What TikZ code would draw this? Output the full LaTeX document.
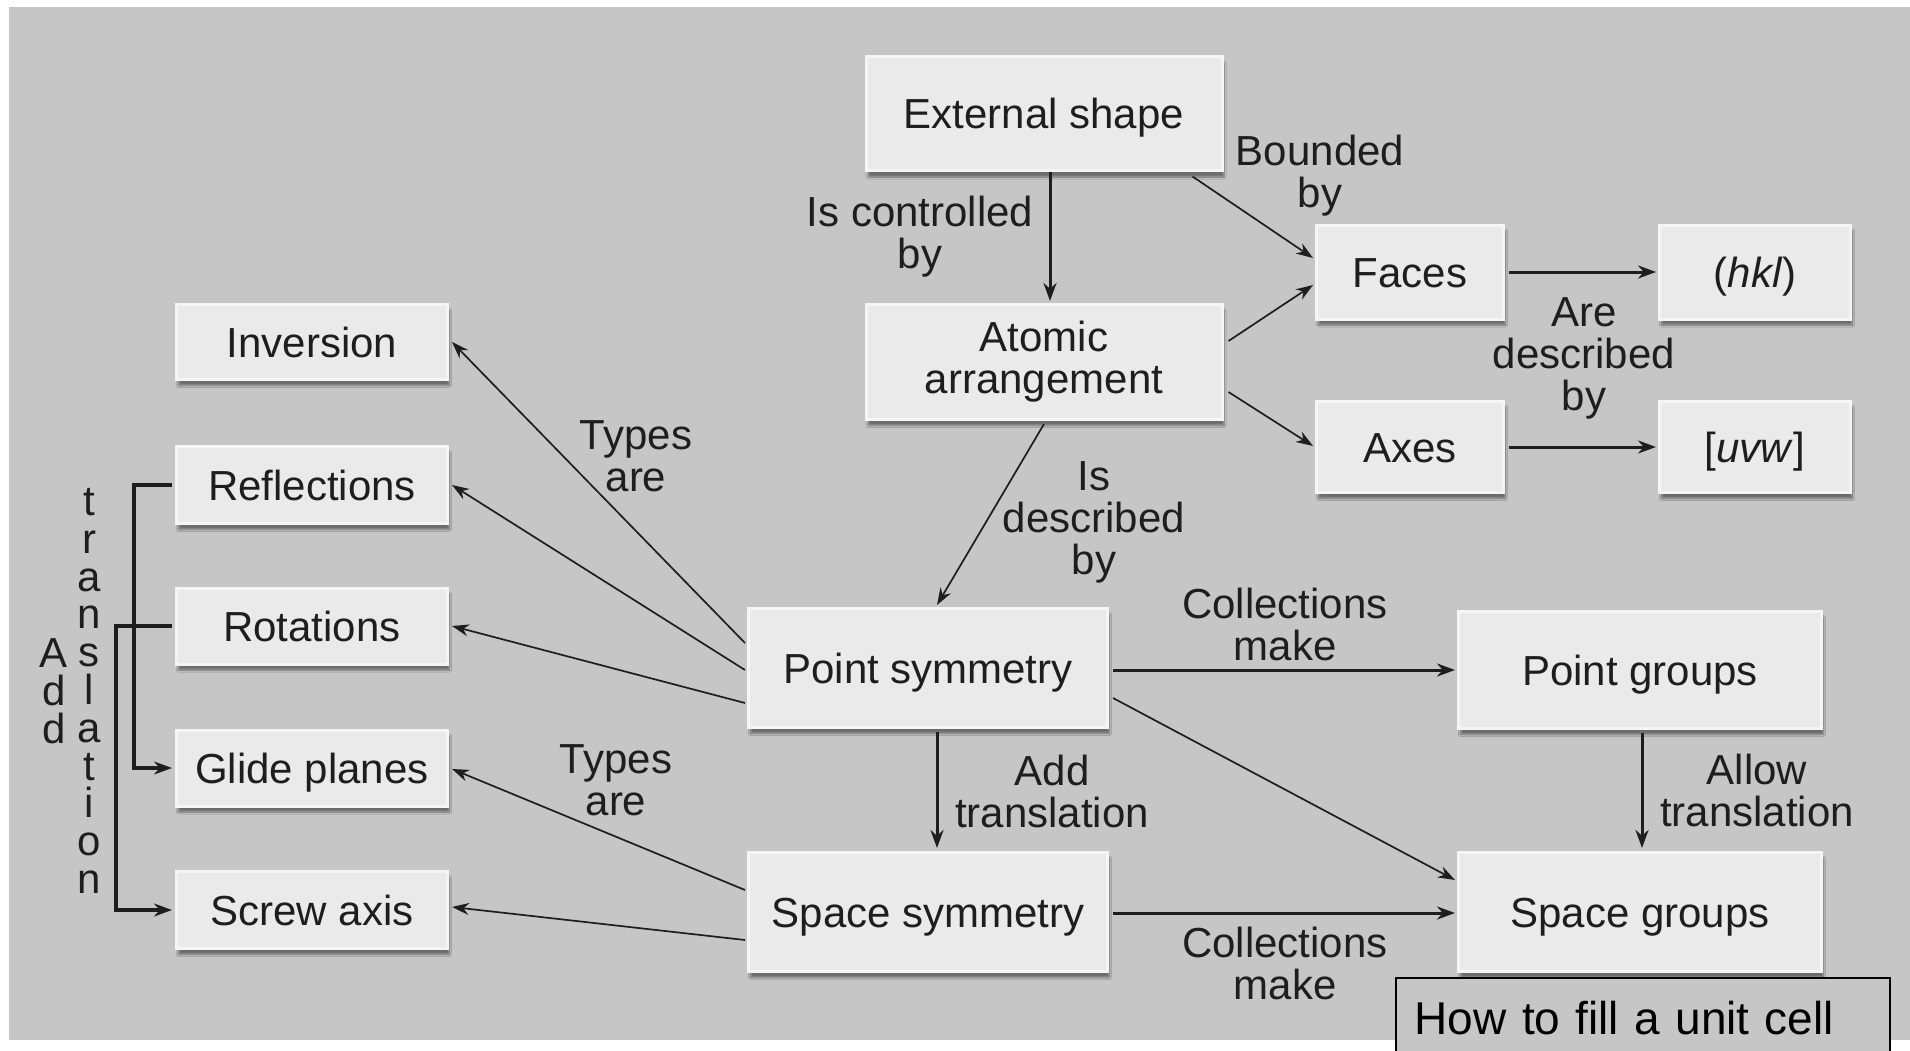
\documentclass[tikz,border=0pt]{standalone}
\usepackage{fontspec}
\setmainfont{Liberation Sans}
\usetikzlibrary{arrows.meta,shadows,shadows.blur,calc}
\definecolor{bg}{HTML}{C6C6C6}
\definecolor{boxfill}{HTML}{EAEAEA}
\definecolor{boxedge}{HTML}{F5F5F5}
\definecolor{ink}{HTML}{1E1E1E}
\tikzset{
  box/.style={draw=boxedge, line width=3pt, fill=boxfill, inner sep=0pt, align=center,
    blur shadow={shadow xshift=2pt, shadow yshift=-6pt, shadow blur steps=6, shadow opacity=45}},
  sline/.style={text height=30pt, text depth=0pt},
  lbl/.style={align=center, inner sep=0pt},
  thinarr/.style={draw=ink, line width=1.7pt, -{Stealth[length=17pt,width=12pt]}},
  thickarr/.style={draw=ink, line width=3pt, -{Stealth[length=18pt,width=13pt]}},
}
\begin{document}
\begin{tikzpicture}[x=1pt,y=-1pt,font=\fontsize{42}{42}\selectfont,text=ink]
\useasboundingbox (0,0) rectangle (1910,1051);
\clip (0,0) rectangle (1910,1051);
\fill[white] (0,0) rectangle (1910,1051);
\fill[bg] (9,7) rectangle (1910,1040);

% nodes
\node[box, sline, minimum width=356pt, minimum height=114pt] (ext) at (1044,114) {External shape};
\node[box, minimum width=356pt, minimum height=115pt] (atom) at (1044,362) {Atomic\\arrangement};
\node[box, sline, minimum width=187pt, minimum height=94pt] (faces) at (1410,272) {Faces};
\node[box, sline, minimum width=187pt, minimum height=91pt] (axes) at (1410,447) {Axes};
\node[box, sline, minimum width=191pt, minimum height=94pt] (hkl) at (1755,272) {(\textit{hkl})};
\node[box, sline, minimum width=191pt, minimum height=91pt] (uvw) at (1755,447) {[\textit{uvw}]};
\node[box, sline, minimum width=271pt, minimum height=75pt] (inv) at (312,342) {Inversion};
\node[box, sline, minimum width=271pt, minimum height=77pt] (refl) at (312,485) {Reflections};
\node[box, sline, minimum width=271pt, minimum height=76pt] (rot) at (312,626) {Rotations};
\node[box, sline, minimum width=271pt, minimum height=76pt] (glide) at (312,768) {Glide planes};
\node[box, sline, minimum width=271pt, minimum height=77pt] (screw) at (312,910) {Screw axis};
\node[box, sline, minimum width=359pt, minimum height=119pt] (psym) at (928,668) {Point symmetry};
\node[box, sline, minimum width=359pt, minimum height=119pt] (ssym) at (928,912) {Space symmetry};
\node[box, sline, minimum width=363pt, minimum height=117pt] (pgrp) at (1640,670) {Point groups};
\node[box, sline, minimum width=363pt, minimum height=119pt] (sgrp) at (1640,912) {Space groups};

% labels
\node[lbl] (l1) at (920,237) {Is controlled\\by};
\node[lbl] (l2) at (1320,176) {Bounded\\by};
\node[lbl] (l3) at (1584,358) {Are\\described\\by};
\node[lbl] (l4) at (636,456) {Types\\are};
\node[lbl] (l5) at (1094,522) {Is\\described\\by};
\node[lbl] (l6) at (1285,624) {Collections\\make};
\node[lbl] (l7) at (616,780) {Types\\are};
\node[lbl] (l8) at (1052,791) {Add\\translation};
\node[lbl] (l9) at (1757,790) {Allow\\translation};
\node[lbl] (l10) at (1285,963) {Collections\\make};
\node[lbl, font=\fontsize{42}{37.8}\selectfont] (vt) at (89,691) {t\\r\\a\\n\\s\\l\\a\\t\\i\\o\\n};
\node[lbl, font=\fontsize{42}{37.8}\selectfont] (va) at (54,691) {A\\d\\d};

% connectors
\draw[thickarr] ($(ext.south)+(6,0)$) -- ($(atom.north)+(6,-2)$);
\draw[thinarr] ($(ext.south east)+(-31,4)$) -- ($(faces.west)+(-2,-14)$);
\draw[thinarr] ($(atom.east)+(5,-21)$) -- ($(faces.west)+(-2,13)$);
\draw[thinarr] ($(atom.east)+(5,30)$) -- ($(axes.west)+(-2,-1)$);
\draw[thickarr] ($(faces.east)+(4,0)$) -- ($(hkl.west)+(-2,0)$);
\draw[thickarr] ($(axes.east)+(4,0)$) -- ($(uvw.west)+(-2,0)$);
\draw[thinarr] ($(atom.south)+(0,3)$) -- ($(psym.north)+(9,-2)$);
\draw[thinarr] ($(psym.west)+(-2,-25)$) -- ($(inv.east)+(3,0)$);
\draw[thinarr] ($(psym.west)+(-2,2)$) -- ($(refl.east)+(3,0)$);
\draw[thinarr] ($(psym.west)+(-2,35)$) -- ($(rot.east)+(3,0)$);
\draw[thickarr] ($(psym.east)+(4,2)$) -- ($(pgrp.west)+(-2,0)$);
\draw[thinarr] ($(psym.east)+(4,30)$) -- ($(sgrp.west)+(-2,-32)$);
\draw[thickarr] ($(psym.south)+(9,3)$) -- ($(ssym.north)+(9,-3)$);
\draw[thinarr] ($(ssym.west)+(-2,-22)$) -- ($(glide.east)+(3,1)$);
\draw[thinarr] ($(ssym.west)+(-2,28)$) -- ($(screw.east)+(3,-3)$);
\draw[thickarr] ($(ssym.east)+(4,1)$) -- ($(sgrp.west)+(-2,1)$);
\draw[thickarr] ($(pgrp.south)+(2,3)$) -- ($(sgrp.north)+(2,-3)$);
\draw[thickarr, line width=3.2pt] ($(refl.west)+(-3,0)$) -- ++(-38,0) |- ($(glide.west)+(-3,0)$);
\draw[thickarr, line width=3.2pt] ($(rot.west)+(-3,0)$) -- ++(-56,0) |- ($(screw.west)+(-3,0)$);

% caption box
\node[draw=black, line width=1.5pt, fill=bg, anchor=north west, minimum width=494pt, minimum height=80pt,
      inner xsep=19pt, inner ysep=0pt, text width=456pt, align=left, font=\fontsize{46}{46}\selectfont, text=black]
  (cap) at (1395,977) {How to fill a unit cell};
\end{tikzpicture}
\end{document}
